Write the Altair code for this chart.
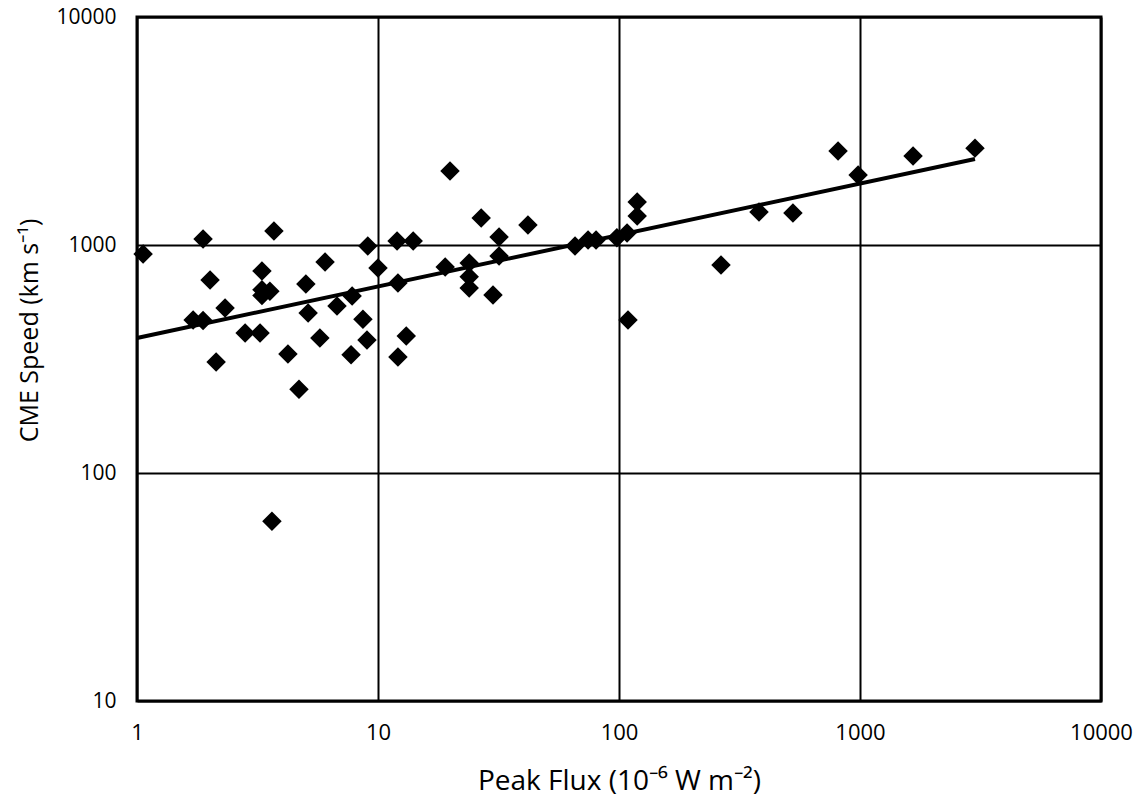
import altair as alt
import pandas as pd

flux = [1.06, 1.71, 1.88, 1.88, 2.01, 2.13, 2.32, 2.81, 3.24, 3.30, 3.30, 3.30, 3.56, 3.70,
        3.63, 4.23, 4.70, 5.02, 5.13, 5.74, 6.03, 6.76, 7.73, 7.81, 8.66, 9.0, 9.07, 10.0,
        12.0, 12.1, 12.1, 13.1, 14.0, 19.0, 19.9, 23.9, 23.9, 23.9, 26.8, 30.0, 31.8, 31.8,
        41.9, 65.7, 74.4, 80.3, 98, 108, 109, 119, 119, 265, 381, 527, 811, 982, 1660, 3000]
speed = [912, 469, 467, 1062, 702, 307, 529, 411, 411, 769, 636, 600, 627, 1151,
         61.5, 333, 233, 674, 503, 391, 842, 540, 330, 598, 473, 383, 990, 793,
         1041, 681, 323, 399, 1041, 801, 2113, 834, 725, 648, 1313, 604, 1084, 895,
         1225, 990, 1052, 1052, 1075, 1130, 469, 1544, 1339, 817, 1396, 1381, 2583, 2027, 2456, 2660]

fit_flux = [1, 3000]
fit_speed = [391, 2383]

ticks = [1, 10, 100, 1000, 10000]
yticks = [10, 100, 1000, 10000]

pts = pd.DataFrame({"flux": flux, "speed": speed})
fit = pd.DataFrame({"flux": fit_flux, "speed": fit_speed})

xscale = alt.Scale(type="log", domain=[1, 10000], nice=False)
yscale = alt.Scale(type="log", domain=[10, 10000], nice=False)

xaxis = alt.Axis(values=ticks, format="d", title="Peak Flux (10⁻⁶ W m⁻²)",
                 grid=True, gridColor="black", gridWidth=2, gridOpacity=1,
                 ticks=False, domain=False, labelFont="Open Sans", labelFontSize=22,
                 labelColor="black", labelPadding=21, titleFont="Open Sans",
                 titleFontSize=28, titleFontWeight="normal", titleColor="black",
                 titlePadding=24, labelFlush=False)
yaxis = alt.Axis(values=yticks, format="d", title="CME Speed (km s⁻¹)",
                 grid=True, gridColor="black", gridWidth=2, gridOpacity=1,
                 ticks=False, domain=False, labelFont="Open Sans", labelFontSize=21,
                 labelColor="black", labelPadding=21, titleFont="Open Sans",
                 titleFontSize=25, titleFontWeight="normal", titleColor="black",
                 titleX=-95, titleY=313, labelFlush=False)

points = alt.Chart(pts).mark_point(shape="diamond", filled=True, color="black",
                                   size=380, opacity=1).encode(
    x=alt.X("flux:Q", scale=xscale, axis=xaxis),
    y=alt.Y("speed:Q", scale=yscale, axis=yaxis),
)

line = alt.Chart(fit).mark_line(color="black", strokeWidth=4).encode(
    x=alt.X("flux:Q", scale=xscale),
    y=alt.Y("speed:Q", scale=yscale),
)

chart = alt.layer(points, line).properties(
    width=964, height=684,
    autosize=alt.AutoSizeParams(type="none"),
    padding={"left": 137, "top": 17, "right": 39, "bottom": 104},
    background="white",
).configure_view(stroke="black", strokeWidth=3)

chart.save("out.html", embed_options={"renderer": "svg", "actions": False})
